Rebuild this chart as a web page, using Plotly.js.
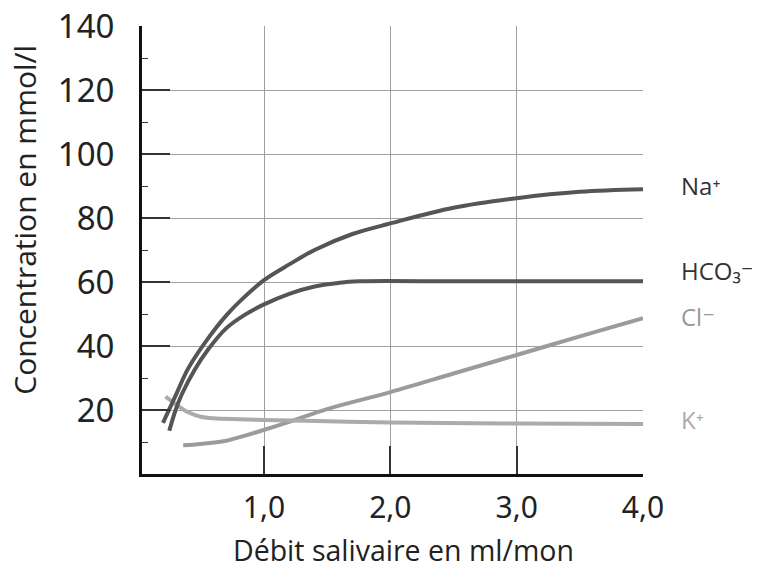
<!DOCTYPE html>
<html>
<head>
<meta charset="utf-8">
<script src="https://cdn.plot.ly/plotly-3.0.1.min.js"></script>
<style>
html,body{margin:0;padding:0;background:#fff;}
#chart{width:757px;height:573px;}
</style>
</head>
<body>
<div id="chart"></div>
<script>
// Data
var naX   = [0.2, 0.3, 0.4, 0.55, 0.7, 0.85, 1.0, 1.2, 1.4, 1.7, 2.0, 2.5, 3.0, 3.5, 4.0];
var naY   = [16, 24.5, 33, 42, 49.5, 55.5, 60.6, 65.5, 70, 75, 78.3, 83.2, 86.2, 88.2, 89];

var hcoX  = [0.25, 0.3, 0.35, 0.45, 0.55, 0.7, 0.85, 1.0, 1.2, 1.4, 1.6, 1.75, 2.5, 3.0, 4.0];
var hcoY  = [13.5, 20, 25, 32.5, 38.5, 45.5, 49.8, 53, 56.3, 58.6, 59.8, 60.2, 60.2, 60.2, 60.2];

var clX   = [0.36, 0.5, 0.7, 0.85, 1.0, 1.2, 1.5, 2.0, 2.5, 3.0, 3.5, 4.0];
var clY   = [9, 9.4, 10.4, 12, 13.8, 16.3, 20.3, 25.6, 31.4, 37.2, 43, 48.7];

var kX    = [0.22, 0.3, 0.4, 0.5, 0.6, 0.8, 1.0, 1.5, 2.0, 3.0, 4.0];
var kY    = [24.2, 21.8, 19.3, 17.9, 17.4, 17.1, 16.9, 16.5, 16.1, 15.8, 15.6];

var xTickVals = [1, 2, 3, 4];
var xTickText = ['1,0', '2,0', '3,0', '4,0'];
var yTickVals = [20, 40, 60, 80, 100, 120, 140];
var yTickText = ['20', '40', '60', '80', '100', '120', '140'];

var labelText = ['Na\u207A', 'HCO\u2083\u207B', 'Cl\u207B', 'K\u207A'];
var labelY    = [90.3, 63.5, 49.2, 16.9];
var labelColor = ['#333333', '#333333', '#999999', '#aaaaaa'];

var yTitle = 'Concentration en mmol/l';
var xTitle = 'Débit salivaire en ml/mon';

var darkLine = '#555555';
var clLine = '#9b9b9b';
var kLine = '#ababab';

var tickFamily = 'Noto Sans, DejaVu Sans, sans-serif';
var textFamily = 'Open Sans, DejaVu Sans, sans-serif';

var traces = [
  {x: clX, y: clY, mode: 'lines', line: {color: clLine, width: 4, shape: 'spline'}, hoverinfo: 'skip'},
  {x: kX, y: kY, mode: 'lines', line: {color: kLine, width: 4, shape: 'spline'}, hoverinfo: 'skip'},
  {x: hcoX, y: hcoY, mode: 'lines', line: {color: darkLine, width: 4, shape: 'spline'}, hoverinfo: 'skip'},
  {x: naX, y: naY, mode: 'lines', line: {color: darkLine, width: 4, shape: 'spline'}, hoverinfo: 'skip'}
];

var annotations = labelText.map(function(t, i){
  return {
    text: t, xref: 'paper', yref: 'y', x: 1.072, y: labelY[i],
    xanchor: 'left', yanchor: 'middle', showarrow: false,
    font: {family: textFamily, size: 24, color: labelColor[i]}
  };
});
annotations.push({
  text: yTitle, xref: 'paper', yref: 'paper', x: -0.234, y: 0.567,
  xanchor: 'center', yanchor: 'middle', textangle: -90, showarrow: false,
  font: {family: textFamily, size: 30, color: '#222222'}
});
annotations.push({
  text: xTitle, xref: 'paper', yref: 'paper', x: 0.521, y: -0.216,
  xanchor: 'center', yanchor: 'bottom', showarrow: false,
  font: {family: textFamily, size: 28.5, color: '#222222'}
});

var layout = {
  width: 757, height: 573,
  margin: {l: 142, r: 114, t: 26, b: 99},
  paper_bgcolor: '#ffffff', plot_bgcolor: '#ffffff',
  showlegend: false,
  xaxis: {
    range: [0.034, 4.0],
    tickvals: xTickVals, ticktext: xTickText,
    ticks: 'inside', ticklen: 28, tickwidth: 2, tickcolor: '#333333',
    showgrid: true, gridcolor: '#a0a0a0', gridwidth: 1,
    showline: true, linecolor: '#111111', linewidth: 3,
    zeroline: false,
    tickfont: {family: tickFamily, size: 30, color: '#222222'},
    ticklabelstandoff: 5
  },
  yaxis: {
    range: [0, 140],
    tickvals: yTickVals, ticktext: yTickText,
    ticks: 'inside', ticklen: 28, tickwidth: 2, tickcolor: '#333333',
    minor: {ticks: 'inside', ticklen: 6, dtick: 10, tickcolor: '#333333', tickwidth: 1, showgrid: false},
    showgrid: true, gridcolor: '#a0a0a0', gridwidth: 1,
    showline: true, linecolor: '#111111', linewidth: 3,
    zeroline: false,
    tickfont: {family: tickFamily, size: 33, color: '#222222'},
    ticklabelstandoff: 18
  },
  annotations: annotations
};

Plotly.newPlot('chart', traces, layout, {staticPlot: true, displayModeBar: false});
</script>
</body>
</html>
